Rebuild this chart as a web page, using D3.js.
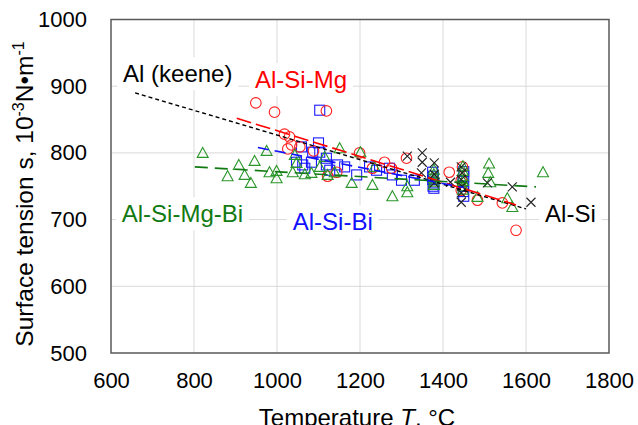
<!DOCTYPE html>
<html>
<head>
<meta charset="utf-8">
<script src="https://cdn.jsdelivr.net/npm/d3@7"></script>
<style>
  body { margin: 0; background: #fff; }
  svg { display: block; font-family: "Liberation Sans", Arial, sans-serif; }
</style>
</head>
<body>
<svg width="638" height="425"></svg>
<script>
// ---- data (temperature in °C, surface tension in 10^-3 N/m) ----
var xTicks = [600, 800, 1000, 1200, 1400, 1600, 1800];
var yTicks = [500, 600, 700, 800, 900, 1000];

var alSiMg = [ // red circles
  [949, 875], [994, 861], [1119, 863], [1018, 828], [1030, 824], [1035, 812], [1026, 806],
  [1088, 803], [1055, 809], [1122, 765], [1144, 771], [1199, 800], [1259, 786], [1276, 777],
  [1312, 792], [1230, 777], [1415, 771], [1447, 779], [1444, 759], [1444, 744], [1483, 729],
  [1543, 725], [1576, 684]
];

var alSiBi = [ // blue squares
  [1103, 864], [1059, 809], [1100, 815], [1086, 801], [1047, 786], [1062, 782], [1083, 786],
  [1067, 777], [1103, 801], [1119, 792], [1119, 782], [1146, 782], [1127, 774], [1163, 779],
  [1192, 767], [1223, 779], [1240, 774], [1271, 777], [1278, 767], [1300, 759], [1331, 759],
  [1375, 771], [1377, 765], [1375, 760], [1378, 755], [1376, 750], [1378, 747],
  [1450, 772], [1450, 765], [1448, 758], [1450, 750], [1449, 742], [1450, 735]
];

var alSiMgBi = [ // green triangles
  [821, 800], [881, 765], [908, 782], [946, 788], [922, 767], [937, 755], [975, 803],
  [982, 771], [999, 773], [999, 762], [1038, 771], [1067, 768], [1043, 797], [1047, 785],
  [1083, 770], [1103, 779], [1115, 794], [1122, 767], [1139, 771], [1151, 807], [1180, 755],
  [1201, 801], [1230, 752], [1278, 735], [1314, 741], [1314, 750], [1235, 779],
  [1378, 775], [1378, 768], [1378, 762], [1378, 757], [1378, 752],
  [1448, 780], [1448, 773], [1448, 765], [1448, 758], [1448, 750], [1448, 745],
  [1511, 784], [1509, 770], [1514, 756], [1483, 734], [1555, 732], [1567, 719], [1641, 771]
];

var alSi = [ // black crosses
  [1314, 795], [1350, 800], [1350, 786], [1379, 785], [1348, 770], [1418, 756], [1379, 768],
  [1379, 755], [1444, 779], [1446, 770], [1444, 760], [1446, 750], [1444, 740], [1444, 726],
  [1507, 755], [1567, 749], [1612, 726]
];

// trend lines: [start, end]
var lineKeene = [[658, 890], [1600, 716]];
var lineAlSiMg = [[903, 852], [1576, 722]];
var lineAlSiBi = [[954, 808], [1450, 748]];
var lineAlSiMgBi = [[802, 779], [1624, 749]];

var labels = [
  {text: "Al (keene)", T: 629, s: 906, color: "#000"},
  {text: "Al-Si-Mg", T: 947, s: 897, color: "#ff0000"},
  {text: "Al-Si-Mg-Bi", T: 626, s: 696, color: "#127a12"},
  {text: "Al-Si-Bi", T: 1038, s: 684, color: "#1010ff"},
  {text: "Al-Si", T: 1646, s: 697, color: "#000"}
];

var svg = d3.select("svg");
var plotL = 111, plotR = 609, plotT = 19.5, plotB = 353;

var x = d3.scaleLinear().domain([600, 1800]).range([plotL, plotR]);
var y = d3.scaleLinear().domain([500, 1000]).range([plotB, plotT]);

// grid
svg.append("g").selectAll("line").data(xTicks.slice(1, -1)).enter().append("line")
    .attr("x1", function(d) { return x(d); }).attr("x2", function(d) { return x(d); })
    .attr("y1", plotT).attr("y2", plotB)
    .attr("stroke", "#d9d9d9").attr("stroke-width", 1);
svg.append("g").selectAll("line").data(yTicks.slice(1, -1)).enter().append("line")
    .attr("y1", function(d) { return y(d); }).attr("y2", function(d) { return y(d); })
    .attr("x1", plotL).attr("x2", plotR)
    .attr("stroke", "#d9d9d9").attr("stroke-width", 1);

// label boxes (white fill hides the grid behind the text)
var labelG = svg.append("g");
labels.forEach(function(l) {
    var t = labelG.append("text")
        .attr("x", x(l.T)).attr("y", y(l.s))
        .attr("font-size", 24)
        .attr("fill", l.color)
        .text(l.text);
    var b = t.node().getBBox();
    labelG.insert("rect", "text")
        .attr("x", b.x - 6).attr("y", b.y - 3)
        .attr("width", b.width + 12).attr("height", b.height + 6)
        .attr("fill", "#fff");
});

// frame
svg.append("rect")
    .attr("x", plotL).attr("y", plotT)
    .attr("width", plotR - plotL).attr("height", plotB - plotT)
    .attr("fill", "none").attr("stroke", "#595959").attr("stroke-width", 1.5);

// tick labels
var fmt = d3.format("d");
var xAxis = d3.axisBottom(x).tickValues(xTicks).tickFormat(fmt).tickSize(0).tickPadding(19);
var gx = svg.append("g").attr("transform", "translate(0," + plotB + ")").call(xAxis);
gx.select(".domain").remove();
gx.selectAll("text").attr("font-size", 22).attr("fill", "#000");
gx.attr("font-family", null).attr("font-size", null);

var yAxis = d3.axisLeft(y).tickValues(yTicks).tickFormat(fmt).tickSize(0).tickPadding(24);
var gy = svg.append("g").attr("transform", "translate(" + plotL + ",0)").call(yAxis);
gy.select(".domain").remove();
gy.selectAll("text").attr("font-size", 22).attr("fill", "#000");
gy.attr("font-family", null).attr("font-size", null);

// axis titles
var xt = svg.append("text")
    .attr("x", (plotL + plotR) / 2 - 3).attr("y", 426)
    .attr("text-anchor", "middle").attr("font-size", 24);
xt.append("tspan").text("Temperature ");
xt.append("tspan").attr("font-style", "italic").text("T");
xt.append("tspan").text(", \u00b0C");

var yt = svg.append("text")
    .attr("transform", "translate(33,194) rotate(-90)")
    .attr("text-anchor", "middle").attr("font-size", 24.5);
yt.append("tspan").text("Surface tension s, 10");
yt.append("tspan").attr("font-size", 16).attr("dy", -9).text("-3");
yt.append("tspan").attr("dy", 9).text("N\u2022m");
yt.append("tspan").attr("font-size", 16).attr("dy", -9).text("-1");

// markers
var marks = svg.append("g").attr("fill", "none").attr("stroke-width", 1.1);

marks.selectAll(".sq").data(alSiBi).enter().append("rect")
    .attr("x", function(d) { return x(d[0]) - 5; })
    .attr("y", function(d) { return y(d[1]) - 5; })
    .attr("width", 10).attr("height", 10)
    .attr("stroke", "#1a1aff");

marks.selectAll(".ci").data(alSiMg).enter().append("circle")
    .attr("cx", function(d) { return x(d[0]); })
    .attr("cy", function(d) { return y(d[1]); })
    .attr("r", 5.3)
    .attr("stroke", "#ff2020");

marks.selectAll(".tr").data(alSiMgBi).enter().append("path")
    .attr("transform", function(d) { return "translate(" + x(d[0]) + "," + y(d[1]) + ")"; })
    .attr("d", "M0,-5.5L5.5,4.5L-5.5,4.5Z")
    .attr("stroke", "#2a962a");

marks.selectAll(".xx").data(alSi).enter().append("path")
    .attr("transform", function(d) { return "translate(" + x(d[0]) + "," + y(d[1]) + ")"; })
    .attr("d", "M-4.5,-4.5L4.5,4.5M-4.5,4.5L4.5,-4.5")
    .attr("stroke", "#222");

// trend lines
var line = d3.line().x(function(d) { return x(d[0]); }).y(function(d) { return y(d[1]); });
svg.append("path").datum(lineKeene).attr("d", line)
    .attr("fill", "none").attr("stroke", "#000").attr("stroke-width", 1.4).attr("stroke-dasharray", "4,3");
svg.append("path").datum(lineAlSiMg).attr("d", line)
    .attr("fill", "none").attr("stroke", "#ff0000").attr("stroke-width", 1.6).attr("stroke-dasharray", "15,5");
svg.append("path").datum(lineAlSiBi).attr("d", line)
    .attr("fill", "none").attr("stroke", "#1010ff").attr("stroke-width", 1.6).attr("stroke-dasharray", "11,6");
svg.append("path").datum(lineAlSiMgBi).attr("d", line)
    .attr("fill", "none").attr("stroke", "#127a12").attr("stroke-width", 1.6).attr("stroke-dasharray", "13,7");
</script>
</body>
</html>
